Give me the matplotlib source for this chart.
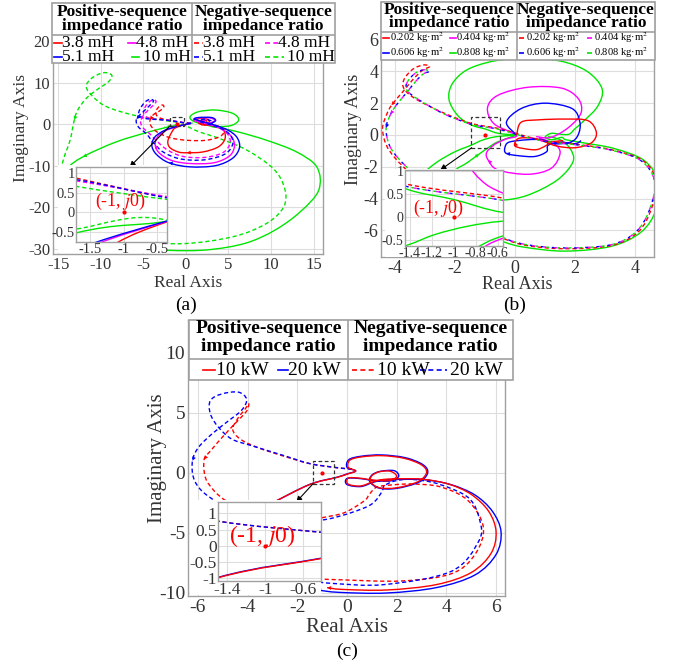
import numpy as np
import matplotlib
matplotlib.use('Agg')
import matplotlib.pyplot as plt
from matplotlib.patches import Rectangle, PathPatch
from matplotlib.path import Path
from matplotlib.ticker import FormatStrFormatter

plt.rcParams['font.family'] = ['Liberation Serif', 'DejaVu Serif']
plt.rcParams['mathtext.fontset'] = 'stix'
plt.rcParams['axes.unicode_minus'] = False

W, H = 679, 666
RED, BLUE, MAG, GRN = '#ff0000', '#0000ff', '#ff00ff', '#00e600'
SOLID, DASH = '-', (0, (3, 2))
nan = np.nan

head_pos = ['Positive-sequence', 'impedance ratio']
head_neg = ['Negative-sequence', 'impedance ratio']
a_labels = ['3.8 mH', '4.8 mH', '5.1 mH', '10 mH']
b_labels = ['0.202 kg·m$^2$', '0.404 kg·m$^2$', '0.606 kg·m$^2$', '0.808 kg·m$^2$']
c_labels = ['10 kW', '20 kW']
point_text = '(-1, $j$0)'

# ---------------- panel (a) : filter inductance ----------------
a_red_pos = [(0.6, 0.2), (-0.355, -0.24), (-1.1, -0.77), (-1.5, -1.4), (-2.1, -3.9), (-1.9, -5.6),
             (-0.9, -6.7), (0.1, -6.9), (2.0, -6.7), (3.8, -5.5), (4.6, -3.5), (4.4, -1.4), (3.4, -0.5),
             (2.0, 0.0), (1.3, 1.0), (1.8, 1.4), (2.6, 1.1), (2.7, 0.2), (2.0, -0.2), (1.5, 0.3),
             (1.65, 0.8), (2.2, 0.7)]
a_mag_pos = [(0.6, 0.2), (-0.355, -0.23), (-1.4, -0.8), (-2.4, -1.6), (-3.3, -3.0), (-3.6, -5.0),
             (-3.1, -7.0), (-1.6, -8.8), (0.6, -9.5), (3.3, -9.3), (5.1, -7.7), (5.7, -5.4), (5.4, -3.1),
             (4.4, -1.4), (3.0, -0.2), (1.6, 0.5), (0.9, 1.0), (1.4, 1.5), (2.8, 1.5), (3.4, 0.9),
             (2.8, 0.3), (1.9, 0.5), (2.2, 1.0)]
a_blue_pos = [(0.6, 0.2), (-0.355, -0.22), (-1.45, -0.78), (-2.5, -1.5), (-3.6, -3.0), (-4.0, -5.0),
              (-3.5, -7.2), (-2.0, -9.3), (0.5, -10.3), (3.5, -10.0), (5.5, -8.2), (6.3, -5.6), (6.0, -3.2),
              (5.0, -1.5), (3.5, -0.3), (2.2, 0.5), (1.0, 1.2), (1.5, 1.6), (3.0, 1.6), (3.5, 0.9), (3.0, 0.2)]
a_grn_pos = [(0.8, 0.3), (-0.355, -0.22), (-1.71, -0.52), (-4.2, -1.8), (-8.2, -4.3), (-12.1, -7.9),
             (-14.0, -11.0), (-14.6, -16.0), (-13.6, -22.0), (-11.5, -26.5), (-7.5, -29.5), (-2.2, -30.4),
             (2.5, -30.3), (7.0, -28.7), (10.5, -25.5), (13.5, -21.0), (15.6, -15.9), (15.4, -10.4),
             (13.0, -6.7), (9.5, -3.9), (6.0, -1.8), (3.0, -0.5), (1.0, 0.6), (0.5, 1.8), (1.5, 3.0),
             (3.5, 3.4), (5.5, 2.6), (6.2, 1.0), (5.2, -0.4), (3.0, -0.6)]
a_red_neg = [(0.6, 0.2), (-0.355, 0.38), (-1.71, 0.87), (-2.8, 1.3), (-3.4, 2.0), (-3.5, 3.2), (-3.1, 4.3),
             (-2.7, 4.6), (-2.6, 4.1), (-3.0, 3.3), (-3.8, 2.3), (-4.2, 1.0), (-4.1, -0.4), (-3.3, -2.0),
             (-1.8, -3.3), (0.2, -3.9), (2.3, -3.9), (4.0, -3.0), (4.5, -1.5), (3.8, -0.5), (2.5, 0.1),
             (1.8, 0.6), (2.3, 0.9), (2.6, 0.4)]
a_mag_neg = [(0.6, 0.2), (-0.355, 0.4), (-1.71, 0.8), (-3.0, 1.1), (-4.2, 1.4), (-4.9, 2.2), (-4.9, 3.6),
             (-4.4, 5.2), (-3.8, 5.9), (-3.5, 5.4), (-3.9, 4.4), (-4.7, 2.8), (-5.3, 1.0), (-5.1, -0.7),
             (-4.2, -2.4), (-3.3, -4.3), (-2.1, -6.3), (-0.3, -7.8), (2.3, -8.0), (4.4, -6.8), (5.2, -4.5),
             (4.9, -2.4), (3.9, -0.9), (2.5, 0.0), (1.9, 0.7), (2.4, 1.1)]
a_blue_neg = [(0.6, 0.2), (-0.355, 0.37), (-1.71, 0.83), (-3.2, 1.1), (-4.6, 1.3), (-5.5, 2.0), (-5.4, 3.6),
              (-4.8, 5.3), (-4.2, 6.0), (-3.8, 5.6), (-4.2, 4.6), (-5.0, 3.0), (-5.8, 1.2), (-5.6, -0.6),
              (-4.6, -2.4), (-3.8, -4.5), (-2.6, -6.8), (-0.6, -8.4), (2.2, -8.6), (4.6, -7.2), (5.5, -4.8),
              (5.2, -2.6), (4.1, -1.0), (2.6, 0.0), (1.6, 0.7), (2.2, 1.2), (3.0, 0.8)]
a_grn_neg = [(0.6, 0.2), (-0.355, 0.33), (-1.71, 0.66), (-3.1, 1.1), (-6.2, 2.2), (-9.3, 4.2), (-10.9, 6.6),
             (-11.7, 9.0), (-11.1, 11.0), (-9.7, 12.4), (-8.7, 11.8), (-9.1, 10.2), (-10.5, 8.2),
             (-11.7, 6.2), (-12.7, 3.4), (-13.1, 1.0), (-13.6, -3.9), (-14.4, -8.7), (-14.9, -14.0),
             (-14.4, -19.9), (-13.3, -23.1), (-10.9, -25.5), (-6.2, -28.0), (-0.3, -28.8), (5.6, -27.1),
             (9.5, -23.9), (11.5, -19.9), (11.6, -15.5), (10.3, -10.8), (7.2, -6.3), (4.0, -3.5),
             (1.5, -1.8), (-0.355, -0.2), (-1.71, -0.42), (-2.5, -0.6)]

# ---------------- panel (b) : inertia ----------------
b_red_pos = [(0.05, 0.0), (0.2, 0.8), (0.77, 0.95), (1.66, 1.0), (2.43, 0.9), (2.71, 0.15), (2.54, -0.5),
             (2.0, -0.8), (1.4, -0.7), (0.95, -0.4), (0.6, -0.2), (0.15, -0.2), (0.0, -0.45), (0.05, -0.75),
             (0.66, -0.93), (1.0, -0.7), (1.2, -0.45), (1.6, -0.35)]
b_blue_pos = [(0.05, 0.0), (-0.29, 0.8), (0.2, 1.66), (1.0, 2.0), (1.9, 1.66), (2.16, 0.8), (2.1, 0.0),
              (1.85, -0.45), (1.3, -0.55), (0.9, -0.3), (0.4, -0.3), (-0.2, -0.45), (-0.34, -0.8),
              (-0.3, -1.15), (0.1, -1.3), (0.66, -1.35), (1.05, -1.05), (1.1, -0.65), (1.5, -0.45),
              (2.0, -0.55), (2.2, -0.35)]
b_mag_pos = [(0.8, -0.2), (1.3, -0.55), (1.5, -1.14), (1.2, -2.1), (0.43, -2.47), (-0.57, -2.2),
             (-0.9, -1.57), (-0.95, -1.1), (-0.72, -0.65), (-0.55, -0.46), (-0.3, -0.25), (0.05, 0.0),
             (-0.7, 0.7), (-0.92, 1.7), (-0.57, 2.5), (0.43, 3.0), (1.54, 2.95), (2.1, 2.3), (2.2, 1.4),
             (1.8, 0.5), (1.2, -0.15), (0.7, -0.1)]
b_grn_pos_1 = [(0.05, 0.0), (-0.55, 0.1), (-1.0, 0.38), (-1.445, 0.62), (-1.9, 1.2), (-2.2, 2.2),
               (-2.1, 3.2), (-1.6, 4.1), (-0.7, 4.65), (0.35, 4.8), (1.5, 4.65), (2.4, 4.0), (2.9, 2.9),
               (2.75, 1.8), (2.3, 0.9), (2.0, 0.4), (1.8, 0.05), (1.5, 0.05), (1.2, 0.1), (1.0, -0.15),
               (1.25, -0.3), (1.55, -0.15), (1.7, -0.3), (2.3, -0.5), (3.3, -0.85), (4.3, -1.6),
               (4.8, -3.0), (4.7, -4.7), (4.2, -6.1), (3.2, -7.0), (1.66, -7.3), (0.3, -7.05), (-0.4, -6.7),
               (-1.5, -5.8), (-2.6, -4.3)]
b_grn_pos_2 = [(0.05, 0.0), (-0.55, -0.09), (-0.87, -0.2), (-1.17, -0.38), (-1.445, -0.63), (-2.0, -1.05),
               (-2.6, -1.7), (-3.2, -2.6)]
b_grn_pos_3 = [(0.05, 0.0), (-0.55, -0.41), (-0.78, -0.65), (-1.2, -1.2), (-1.6, -1.75), (-2.0, -2.3),
               (-1.8, -3.3), (-1.2, -3.9), (-0.5, -4.1), (0.4, -3.8), (1.4, -2.84), (1.93, -1.68),
               (1.83, -0.84), (1.5, -0.3), (1.1, -0.1)]
b_red_neg = [(0.2, 0.0), (1.0, -0.37), (2.1, -0.6), (3.2, -0.92), (4.25, -1.6), (4.7, -2.9), (4.55, -4.6),
             (4.1, -6.1), (3.2, -6.95), (1.66, -7.15), (0.4, -6.95), (-0.4, -6.5), (-1.5, -5.5), (-2.6, -4.0),
             (-3.4, -2.6), (-4.0, -1.45), (-4.3, -0.6), (-4.42, 0.4), (-4.3, 1.2), (-4.12, 1.87),
             (-3.75, 2.7), (-3.4, 3.5), (-3.1, 4.05), (-2.85, 4.3), (-3.05, 4.4), (-3.4, 4.15), (-3.7, 3.5),
             (-3.7, 2.9), (-3.3, 2.25), (-2.34, 1.35), (-1.445, 0.72), (-0.55, 0.41), (0.2, 0.0)]
# the 0.404, 0.606 and 0.808 kg·m² negative-sequence loci lie on top of each other
b_blue_neg = [(0.2, -0.05), (1.0, -0.4), (2.1, -0.63), (3.2, -0.95), (4.2, -1.62), (4.65, -2.9),
              (4.5, -4.6), (4.05, -6.05), (3.2, -6.9), (1.66, -7.1), (0.4, -6.9), (-0.4, -6.45),
              (-1.5, -5.4), (-2.6, -3.9), (-3.3, -2.6), (-3.9, -1.45), (-4.2, -0.6), (-4.3, 0.45),
              (-4.15, 1.3), (-3.95, 1.9), (-3.6, 2.7), (-3.3, 3.4), (-3.05, 3.85), (-2.85, 4.0),
              (-3.05, 4.1), (-3.35, 3.85), (-3.6, 3.3), (-3.6, 2.8), (-3.2, 2.2), (-2.34, 1.3),
              (-1.445, 0.67), (-0.55, 0.36), (0.2, -0.05)]
b_mag_neg = b_blue_neg
b_grn_neg = b_blue_neg

# ---------------- panel (c) : power ----------------
c_red_pos = [(-3.3, -2.8), (-2.97, -2.47), (-1.5, -0.98), (-0.41, -0.39), (0.0, -0.12), (0.35, 0.15),
             (0.05, 0.45), (0.12, 1.05), (0.6, 1.32), (1.4, 1.42), (2.3, 1.2), (3.0, 0.65), (3.2, 0.0),
             (2.85, -0.75), (2.0, -1.25), (1.3, -1.25), (0.95, -0.75), (1.0, -0.25), (1.3, 0.08),
             (1.75, 0.12), (2.0, -0.3), (1.7, -0.65), (1.1, -0.62), (0.5, -0.45), (0.05, -0.45),
             (0.05, -0.95), (0.55, -1.1), (1.05, -0.75), (1.5, -0.55), (2.3, -0.5), (3.1, -0.55),
             (4.1, -0.95), (5.0, -1.8), (5.7, -3.2), (6.0, -4.9), (5.8, -6.7), (5.0, -8.3), (3.6, -9.3),
             (1.6, -9.75), (-0.2, -9.7), (-0.8, -9.55)]
c_blue_pos = [(-3.3, -2.8), (-2.97, -2.47), (-1.5, -0.97), (-0.41, -0.38), (0.0, -0.1), (0.35, 0.15),
              (0.0, 0.45), (0.08, 1.1), (0.6, 1.38), (1.4, 1.48), (2.35, 1.25), (3.05, 0.68), (3.25, 0.0),
              (2.9, -0.78), (2.0, -1.3), (1.3, -1.28), (0.92, -0.75), (1.0, -0.2), (1.35, 0.12),
              (1.9, 0.17), (2.08, -0.3), (1.75, -0.68), (1.1, -0.65), (0.5, -0.48), (0.0, -0.48),
              (0.0, -0.98), (0.55, -1.15), (1.05, -0.8), (1.5, -0.6), (2.3, -0.55), (3.2, -0.6),
              (4.2, -1.0), (5.15, -1.85), (5.85, -3.2), (6.2, -4.9), (6.0, -6.8), (5.15, -8.5),
              (3.6, -9.55), (1.6, -10.0), (-0.3, -9.95), (-1.2, -9.75)]
c_red_neg = [(0.2, 0.3), (-0.41, 0.42), (-1.5, 0.76), (-2.5, 1.35), (-3.6, 2.1), (-4.3, 2.8), (-4.6, 3.6),
             (-4.4, 4.5), (-4.1, 5.3), (-3.95, 5.75), (-4.05, 5.1), (-4.5, 4.1), (-5.0, 3.0), (-5.5, 1.8),
             (-5.75, 1.1), (-5.7, -0.4), (-5.35, -1.5), (-4.9, -2.3), (-4.4, -2.8), (nan, nan),
             (-0.9, -8.85), (-0.3, -8.9), (2.2, -9.0), (4.2, -8.4), (5.15, -6.8), (5.49, -4.55),
             (4.88, -2.33), (3.8, -1.2), (2.7, -0.94), (1.9, -1.0), (1.2, -1.2), (0.9, -1.8), (0.7, -2.33),
             (-0.08, -3.3), (-0.9, -3.7), (-1.3, -3.85)]
c_blue_neg = [(0.2, 0.3), (-0.41, 0.42), (-1.5, 0.76), (-2.5, 1.4), (-3.84, 2.25), (-4.64, 2.8),
              (-5.18, 3.8), (-5.5, 4.9), (-5.5, 6.0), (-5.04, 6.55), (-4.37, 6.7), (-4.04, 6.1),
              (-4.24, 5.2), (-4.78, 4.3), (-5.45, 3.2), (-5.98, 2.1), (-6.22, 1.0), (-6.18, -0.4),
              (-5.85, -1.5), (-5.18, -2.5), (-4.6, -3.0), (nan, nan), (-1.4, -9.0), (-0.6, -9.2),
              (1.5, -9.3), (4.2, -8.2), (5.3, -5.7), (5.35, -4.0), (4.9, -2.1), (3.7, -0.95), (2.6, -0.55),
              (1.9, -0.7), (1.5, -1.1), (1.4, -1.6), (1.0, -2.6), (0.2, -3.3), (-0.75, -3.85), (-1.3, -3.95)]


def px_axes(fig, x0, y0, x1, y1):
    return fig.add_axes([x0 / W, 1 - y1 / H, (x1 - x0) / W, (y1 - y0) / H])


def style(ax, xlim, ylim, xticks, yticks, fs, pad=2):
    ax.set_xlim(xlim)
    ax.set_ylim(ylim)
    ax.set_xticks(xticks)
    ax.set_yticks(yticks)
    ax.xaxis.set_major_formatter(FormatStrFormatter('%g'))
    ax.yaxis.set_major_formatter(FormatStrFormatter('%g'))
    ax.grid(True, color='#dddddd', lw=0.8)
    ax.set_axisbelow(True)
    ax.tick_params(length=0, labelsize=fs, colors='#333333', pad=pad)
    for s in ax.spines.values():
        s.set_color('#a0a0a0')
        s.set_linewidth(1.0)


def labels(ax, fs, xl_y, yl_x):
    ax.set_xlabel('Real Axis', fontsize=fs, color='#333333')
    ax.set_ylabel('Imaginary Axis', fontsize=fs, color='#333333')
    ax.xaxis.set_label_coords(0.5, xl_y)
    ax.yaxis.set_label_coords(yl_x, 0.5)


def smooth(data):
    # draw the read points as one smooth curve (Bezier through each point)
    d = np.array(data, dtype=float)
    verts, codes = [], []
    breaks = np.where(np.isnan(d[:, 0]))[0]
    for seg in np.split(d, breaks):
        seg = seg[~np.isnan(seg[:, 0])]
        if len(seg) < 2:
            continue
        verts.append(seg[0])
        codes.append(Path.MOVETO)
        for i in range(len(seg) - 1):
            p0 = seg[max(i - 1, 0)]
            p1, p2 = seg[i], seg[i + 1]
            p3 = seg[min(i + 2, len(seg) - 1)]
            verts += [p1 + (p2 - p0) / 6, p2 - (p3 - p1) / 6, p2]
            codes += [Path.CURVE4] * 3
    return Path(verts, codes)


def draw(ax, series):
    for data, color, ls in series:
        ax.add_patch(PathPatch(smooth(data), fill=False, edgecolor=color, ls=ls, lw=1.0))


def heads(ax, marks):
    for data, i0, i1, color in marks:
        ax.annotate('', xy=data[i1], xytext=data[i0],
                    arrowprops=dict(arrowstyle='-|>', color=color, lw=0.01, mutation_scale=7,
                                    shrinkA=0, shrinkB=0))


def legend(fig, box, xdiv, ysep, hy, hfs, efs, entries):
    x0, y0, x1, y1 = box
    lg = px_axes(fig, x0, y0, x1, y1)
    lg.set_xlim(x0, x1)
    lg.set_ylim(y1, y0)
    lg.axis('off')
    lg.add_patch(Rectangle((x0, y0), x1 - x0, y1 - y0, fc='white', ec='#a0a0a0', lw=1.2, clip_on=False))
    lg.plot([xdiv, xdiv], [y0, y1], color='#a0a0a0', lw=1.2)
    lg.plot([x0, x1], [ysep, ysep], color='#a0a0a0', lw=1.2)
    for cx, head in (((x0 + xdiv) / 2, head_pos), ((xdiv + x1) / 2, head_neg)):
        for yy, line in zip(hy, head):
            lg.text(cx, yy, line, ha='center', va='center', fontsize=hfs, fontweight='bold')
    for lx0, lx1, tx, yy, color, ls, label in entries:
        lg.plot([lx0, lx1], [yy, yy], color=color, ls=ls, lw=1.2)
        lg.text(tx, yy, label, ha='left', va='center', fontsize=efs)


def inset(fig, ax, series, bg, frame, xlim, ylim, xticks, yticks, fs, txt_xy, txt_fs, box, link_x):
    b = px_axes(fig, *bg)
    b.set_xticks([])
    b.set_yticks([])
    for s in b.spines.values():
        s.set_visible(False)
    b.set_facecolor('white')
    ins = px_axes(fig, *frame)
    style(ins, xlim, ylim, xticks, yticks, fs, pad=1)
    draw(ins, series)
    ins.plot([-1], [0], 'o', color=RED, ms=2)
    ins.text(txt_xy[0], txt_xy[1], point_text, color=RED, fontsize=txt_fs, ha='center', va='center')
    bx0, bx1, by0, by1 = box
    ax.add_patch(Rectangle((bx0, by0), bx1 - bx0, by1 - by0, fill=False, ec='#333333', lw=0.9,
                           ls=(0, (3, 2)), zorder=5))
    ax.plot([-1], [0], 'o', color=RED, ms=2, zorder=5)
    ax.annotate('', xy=(link_x, 1.0), xycoords=ins.transAxes, xytext=(bx0, by0), textcoords='data',
                arrowprops=dict(arrowstyle='-|>', color='black', lw=0.8, mutation_scale=8,
                                shrinkA=0, shrinkB=0), annotation_clip=False, zorder=6)


fig = plt.figure(figsize=(W / 100, H / 100), dpi=100)

# ---- (a)
ser_a = [(a_grn_pos, GRN, SOLID), (a_grn_neg, GRN, DASH), (a_red_pos, RED, SOLID), (a_red_neg, RED, DASH),
         (a_mag_pos, MAG, SOLID), (a_mag_neg, MAG, DASH), (a_blue_pos, BLUE, SOLID), (a_blue_neg, BLUE, DASH)]
axa = px_axes(fig, 53, 3, 323, 254)
style(axa, (-15.6, 16.1), (-31.3, 29.2), [-15, -10, -5, 0, 5, 10, 15], [-30, -20, -10, 0, 10, 20], 12)
draw(axa, ser_a)
heads(axa, [(a_red_pos, 8, 7, RED), (a_mag_pos, 6, 5, MAG), (a_blue_pos, 8, 7, BLUE), (a_grn_pos, 4, 5, GRN),
            (a_red_neg, 10, 11, RED), (a_blue_neg, 11, 12, BLUE), (a_mag_neg, 11, 12, MAG),
            (a_grn_neg, 14, 15, GRN)])
labels(axa, 12.5, -0.085, -0.09)

# ---- (b)
ser_b = [(b_grn_pos_1, GRN, SOLID), (b_grn_pos_2, GRN, SOLID), (b_grn_pos_3, GRN, SOLID),
         (b_mag_pos, MAG, SOLID), (b_blue_pos, BLUE, SOLID), (b_red_pos, RED, SOLID),
         (b_red_neg, RED, DASH), (b_blue_neg, BLUE, (0, (2, 6))), (b_mag_neg, MAG, (2, (2, 6))),
         (b_grn_neg, GRN, (4, (2, 6)))]
axb = px_axes(fig, 381, 2, 654, 257)
style(axb, (-4.47, 4.63), (-7.67, 8.36), [-4, -2, 0, 2, 4], [-6, -4, -2, 0, 2, 4, 6], 13)
draw(axb, ser_b)
heads(axb, [(b_red_neg, 20, 19, RED), (b_mag_neg, 19, 18, MAG), (b_blue_neg, 18, 17, BLUE),
            (b_red_pos, 13, 12, RED), (b_blue_pos, 14, 13, BLUE), (b_mag_pos, 5, 6, MAG),
            (b_grn_pos_3, 4, 3, GRN)])
labels(axb, 13, -0.075, -0.07)

# ---- (c)
ser_c = [(c_red_neg, RED, DASH), (c_blue_neg, BLUE, DASH), (c_blue_pos, BLUE, SOLID), (c_red_pos, RED, SOLID)]
axc = px_axes(fig, 188, 320, 505, 596)
style(axc, (-6.4, 6.36), (-10.25, 12.7), [-6, -4, -2, 0, 2, 4, 6], [-10, -5, 0, 5, 10], 14)
draw(axc, ser_c)
heads(axc, [(c_blue_neg, 15, 16, BLUE), (c_red_neg, 13, 14, RED), (c_blue_pos, 39, 40, BLUE),
            (c_red_pos, 39, 40, RED)])
labels(axc, 15, -0.08, -0.066)

# ---- legends
legend(fig, (52, 3, 335, 63), 192, 35, (11.5, 26), 12.5, 12.5,
       [(54, 62, 62, 43, RED, SOLID, a_labels[0]), (128, 136, 136, 43, MAG, SOLID, a_labels[1]),
        (54, 62, 62, 57, BLUE, SOLID, a_labels[2]), (132, 139, 143, 57, GRN, SOLID, a_labels[3]),
        (194, 203, 203, 43, RED, DASH, a_labels[0]), (265, 278, 278, 43, MAG, DASH, a_labels[1]),
        (194, 203, 203, 57, BLUE, DASH, a_labels[2]), (265, 284, 287, 57, GRN, DASH, a_labels[3])])
legend(fig, (381, 2, 655, 60), 517, 32, (9.5, 23), 12.5, 7.6,
       [(383, 389, 389.5, 38, RED, SOLID, b_labels[0]), (450, 456, 456.5, 38, MAG, SOLID, b_labels[1]),
        (383, 389, 389.5, 53, BLUE, SOLID, b_labels[2]), (450, 456, 456.5, 53, GRN, SOLID, b_labels[3]),
        (519, 526, 526.5, 38, RED, DASH, b_labels[0]), (587, 593, 593.5, 38, MAG, DASH, b_labels[1]),
        (519, 526, 526.5, 53, BLUE, DASH, b_labels[2]), (587, 593, 593.5, 53, GRN, DASH, b_labels[3])])
legend(fig, (189, 320, 513, 380), 348, 359, (328.5, 346), 14, 14,
       [(203, 215, 215.5, 370, RED, SOLID, c_labels[0]), (278, 288, 288.5, 370, BLUE, SOLID, c_labels[1]),
        (352, 375, 377, 370, RED, DASH, c_labels[0]), (420, 447, 450, 370, BLUE, DASH, c_labels[1])])

# ---- insets
inset(fig, axa, ser_a, (58, 165, 167, 253), (76, 167, 167, 242), (-1.71, -0.355), (-0.75, 1.15),
      [-1.5, -1, -0.5], [-0.5, 0, 0.5, 1], 10.5, (-1.04, 0.28), 13, (-1.9, -0.2, -0.5, 1.7), 0.59)
inset(fig, axb, ser_b, (385, 169, 503, 257), (405, 170, 503, 246), (-1.445, -0.55), (-0.63, 1.02),
      [-1.4, -1.2, -1, -0.8, -0.6], [-0.5, 0, 0.5, 1], 10, (-1.14, 0.18), 13, (-1.46, -0.51, -0.82, 1.12), 0.36)
inset(fig, axc, ser_c, (190, 500, 321, 595), (218, 502, 321, 581), (-1.5, -0.41), (-1.08, 1.35),
      [-1.4, -1, -0.6], [-1, -0.5, 0, 0.5, 1], 12.5, (-1.03, 0.3), 17, (-1.37, -0.52, -0.92, 1.0), 0.76)

fig.text(186 / W, 1 - 305 / H, '(a)', ha='center', va='center', fontsize=14)
fig.text(515 / W, 1 - 305 / H, '(b)', ha='center', va='center', fontsize=14)
fig.text(347 / W, 1 - 651 / H, '(c)', ha='center', va='center', fontsize=14)

fig.savefig('out.png', dpi=100)
